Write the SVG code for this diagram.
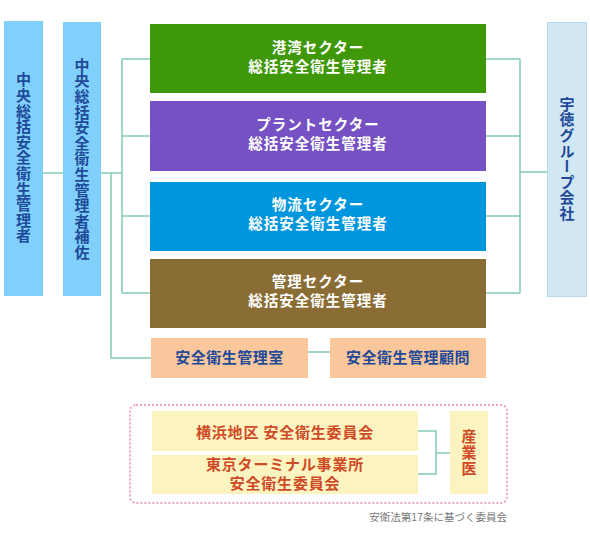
<svg xmlns="http://www.w3.org/2000/svg" width="590" height="540" viewBox="0 0 590 540">
<style>
.t{font-family:"Noto Sans CJK JP","Noto Sans",sans-serif;font-weight:bold;text-anchor:middle}
.w{fill:#ffffff;font-size:14.5px;letter-spacing:1px}
.b{fill:#1e4a99;font-size:15px;letter-spacing:0.5px}
.v{writing-mode:vertical-rl;letter-spacing:0.6px}
.r{fill:#cf4a26;font-size:15px;letter-spacing:0.8px}
.ln{fill:none;stroke:#84c9b3;stroke-width:1.5}
</style>
<rect width="590" height="540" fill="#ffffff"/>
<g id="connectors">
<path class="ln" d="M43 173H63"/>
<path class="ln" d="M101 173H122M122 59V293M122 59H150M122 136H150M122 216H150M122 293H150"/>
<path class="ln" d="M111 173V358H151"/>
<path class="ln" d="M308 352H330"/>
<path class="ln" d="M486 59H520M486 136H520M486 216H520M486 293H520M520 59V293M520 172H547"/>
<path class="ln" d="M418 431H436V474H418M436 453H450"/>
</g>
<g id="n-central">
<rect x="4" y="21" width="39" height="275" fill="#80d0fb"/>
<text class="t b v" x="23.5" y="158">中央総括安全衛生管理者</text>
</g>
<g id="n-central-assist">
<rect x="63" y="22" width="38" height="274" fill="#80d0fb"/>
<text class="t b v" x="82" y="159">中央総括安全衛生管理者補佐</text>
</g>
<g id="n-port">
<rect x="150" y="24" width="336" height="69" fill="#3f9808"/>
<text class="t w" x="318" y="53">港湾セクター</text>
<text class="t w" x="318" y="72">総括安全衛生管理者</text>
</g>
<g id="n-plant">
<rect x="150" y="101" width="336" height="70" fill="#7651c3"/>
<text class="t w" x="318" y="130">プラントセクター</text>
<text class="t w" x="318" y="149">総括安全衛生管理者</text>
</g>
<g id="n-logistics">
<rect x="150" y="182" width="336" height="69" fill="#0096dd"/>
<text class="t w" x="318" y="210">物流セクター</text>
<text class="t w" x="318" y="229">総括安全衛生管理者</text>
</g>
<g id="n-admin">
<rect x="150" y="259" width="336" height="69" fill="#8a6d34"/>
<text class="t w" x="318" y="287">管理セクター</text>
<text class="t w" x="318" y="306">総括安全衛生管理者</text>
</g>
<g id="n-office">
<rect x="151" y="338" width="157" height="40" fill="#f9c79b"/>
<text class="t b" x="229.5" y="363">安全衛生管理室</text>
</g>
<g id="n-advisor">
<rect x="330" y="338" width="156" height="40" fill="#f9c79b"/>
<text class="t b" x="408" y="363">安全衛生管理顧問</text>
</g>
<g id="n-group">
<rect x="547.5" y="22.5" width="39" height="274" fill="#d1e7f4" stroke="#b9d7ea" stroke-width="1"/>
<text class="t b v" x="567" y="159">宇徳グループ会社</text>
</g>
<g id="n-committee">
<rect x="130" y="405" width="377" height="98" rx="6" fill="none" stroke="#f2a4bf" stroke-width="2" stroke-dasharray="2 2"/>
</g>
<g id="n-yokohama">
<rect x="152" y="411" width="266" height="40" fill="#fbf4c1"/>
<text class="t r" x="285" y="438">横浜地区 安全衛生委員会</text>
</g>
<g id="n-tokyo">
<rect x="152" y="455" width="266" height="39" fill="#fbf4c1"/>
<text class="t r" x="285" y="470">東京ターミナル事業所</text>
<text class="t r" x="285" y="489">安全衛生委員会</text>
</g>
<g id="n-doctor">
<rect x="450" y="411" width="38" height="83" fill="#fbf4c1"/>
<text class="t r v" x="469" y="453">産業医</text>
</g>
<text x="507" y="521" font-family="'Noto Sans CJK JP','Noto Sans',sans-serif" font-size="10.5" fill="#7a7a7a" text-anchor="end">安衛法第17条に基づく委員会</text>
</svg>
